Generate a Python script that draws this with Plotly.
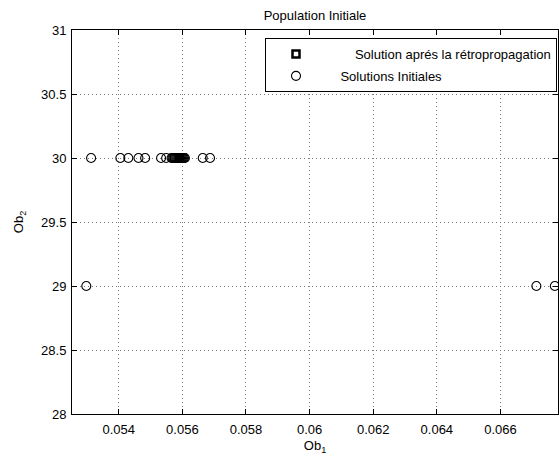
import plotly.graph_objects as go

# ---- data ----
init_x_30 = [0.05313, 0.05405, 0.05430, 0.05462, 0.05483, 0.05533, 0.05549,
             0.05566, 0.05569, 0.05572, 0.05575, 0.05578, 0.05581, 0.05584,
             0.05587, 0.05590, 0.05593, 0.05596, 0.05599, 0.05602, 0.05605,
             0.05608, 0.05664, 0.05687]
init_y_30 = [30] * len(init_x_30)
init_x_29 = [0.05298, 0.06713, 0.06771]
init_y_29 = [29] * len(init_x_29)
best_x = [0.05590]
best_y = [30]

x_ticks = [0.054, 0.056, 0.058, 0.06, 0.062, 0.064, 0.066]
x_tick_labels = ["0.054", "0.056", "0.058", "0.06", "0.062", "0.064", "0.066"]
y_ticks = [28, 28.5, 29, 29.5, 30, 30.5, 31]
y_tick_labels = ["28", "28.5", "29", "29.5", "30", "30.5", "31"]

init_x = init_x_30 + init_x_29
init_y = init_y_30 + init_y_29

FONT = "Liberation Sans, Arial, Helvetica, sans-serif"
NB = "\u00a0"

fig = go.Figure()
fig.add_trace(go.Scatter(
    x=best_x, y=best_y, mode="markers",
    name=NB * 8 + "Solution aprés la rétropropagation",
    legendgroup="a",
    marker=dict(symbol="square", size=7, color="white",
                line=dict(color="black", width=2.5)),
    cliponaxis=False,
))
fig.add_trace(go.Scatter(
    x=init_x, y=init_y, mode="markers",
    name=NB * 4 + "Solutions Initiales",
    legendgroup="b",
    marker=dict(symbol="circle-open", size=9, color="black",
                line=dict(color="black", width=1.1)),
    cliponaxis=False,
))

W, H = 559, 459
L, R, T, B = 72, 1, 30, 45
pw, ph = W - L - R, H - T - B

axis_common = dict(
    showline=True, linecolor="black", linewidth=1, mirror="allticks",
    ticks="inside", ticklen=5, tickcolor="black", tickwidth=1,
    showgrid=True, gridcolor="#7a7a7a", griddash="1px,3px", gridwidth=1,
    zeroline=False, tickfont=dict(family=FONT, size=13, color="black"),
)

fig.update_layout(
    width=W, height=H,
    margin=dict(l=L, r=R, t=T, b=B, autoexpand=False),
    paper_bgcolor="white", plot_bgcolor="white",
    font=dict(family=FONT, size=13, color="black"),
    title=dict(text="Population Initiale", x=(L + pw / 2) / W, xanchor="center",
               y=1 - 15 / H, yanchor="middle",
               font=dict(family=FONT, size=13, color="black")),
    xaxis=dict(range=[0.05253, 0.06781], tickvals=x_ticks, ticktext=x_tick_labels,
               ticklabelstandoff=3,
               title=dict(text="Ob<sub>1</sub>", standoff=5,
                          font=dict(family=FONT, size=13, color="black")),
               **axis_common),
    yaxis=dict(range=[28, 31], tickvals=y_ticks, ticktext=y_tick_labels,
               ticklabelstandoff=2,
               title=dict(text="Ob<sub>2</sub>", standoff=14,
                          font=dict(family=FONT, size=13, color="black")),
               **axis_common),
    showlegend=True,
    legend=dict(x=(265 - L) / pw, y=(H - B - 38) / ph, xanchor="left", yanchor="top",
                bgcolor="white", bordercolor="black", borderwidth=1,
                itemwidth=50, font=dict(family=FONT, size=13, color="black"),
                tracegroupgap=2),
)

fig.write_html("out.html", config={"displayModeBar": False},
               post_script="document.body.style.margin='0';document.body.style.overflow='hidden';")
